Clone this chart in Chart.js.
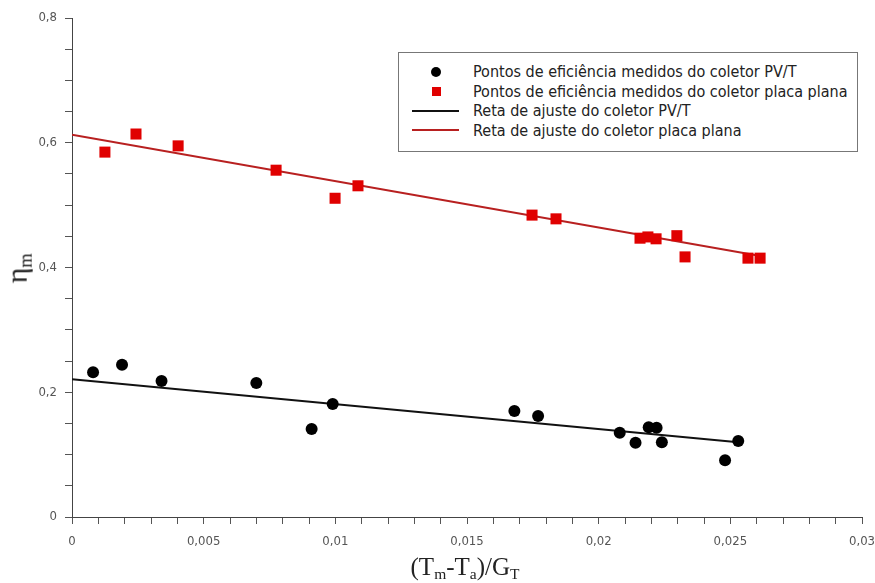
<!DOCTYPE html>
<html>
<head>
<meta charset="utf-8">
<script src="https://cdn.jsdelivr.net/npm/chart.js@4/dist/chart.umd.min.js"></script>
<style>
  body { margin: 0; background: #fff; }
  #wrap { position: relative; width: 875px; height: 583px; }
  #legend {
    position: absolute; left: 398px; top: 52px; width: 460px; height: 100px;
    border: 1px solid #777; background: #fff; box-sizing: border-box;
    font-family: "DejaVu Sans Condensed", "DejaVu Sans", sans-serif; font-size: 16px; color: #222;
    padding-top: 9px;
  }
  .row { height: 19.5px; display: flex; align-items: center; }
  .mark { width: 74px; display: flex; justify-content: center; align-items: center; }
  .dot { width: 10px; height: 10px; border-radius: 50%; background: #000; }
  .sq { width: 9px; height: 9px; background: #e00000; }
  .ln { width: 47px; height: 2px; margin-left: -2px; }
  .ytitle {
    position: absolute; left: -4px; top: 250px; transform: rotate(-90deg); transform-origin: center;
    font-family: "Liberation Serif", serif; font-size: 30px; color: #222; width: 44px; text-align: center;
  }
  .xtitle {
    position: absolute; left: 0; width: 930px; top: 553px; text-align: center;
    font-family: "Liberation Serif", serif; font-size: 25px; color: #222;
  }
  sub { font-size: 62%; vertical-align: -0.25em; }
</style>
</head>
<body>
<div id="wrap">
  <canvas id="c" width="875" height="583"></canvas>
  <div class="ytitle">η<sub>m</sub></div>
  <div class="xtitle">(T<sub>m</sub>-T<sub>a</sub>)/G<sub>T</sub></div>
  <div id="legend"></div>
</div>
<script>
// measured efficiency points, PV/T collector
const pvtX = [0.0008, 0.0019, 0.0034, 0.0070, 0.0091, 0.0099, 0.0168, 0.0177, 0.0208, 0.0214, 0.0219, 0.0222, 0.0224, 0.0248, 0.0253];
const pvtY = [0.232, 0.244, 0.218, 0.215, 0.141, 0.181, 0.170, 0.162, 0.135, 0.119, 0.144, 0.143, 0.120, 0.091, 0.122];
// measured efficiency points, flat plate collector
const placaX = [0.00125, 0.00243, 0.00403, 0.00775, 0.00999, 0.01086, 0.01747, 0.01838, 0.02157, 0.02187, 0.02218, 0.02297, 0.02328, 0.02567, 0.02613];
const placaY = [0.585, 0.614, 0.595, 0.556, 0.511, 0.531, 0.484, 0.478, 0.447, 0.449, 0.446, 0.451, 0.417, 0.415, 0.415];
// fitted lines (end points)
const fitPvtX = [0, 0.0253];
const fitPvtY = [0.221, 0.120];
const fitPlacaX = [0, 0.0262];
const fitPlacaY = [0.613, 0.418];

const labels = [
  'Pontos de eficiência medidos do coletor PV/T',
  'Pontos de eficiência medidos do coletor placa plana',
  'Reta de ajuste do coletor PV/T',
  'Reta de ajuste do coletor placa plana'
];

const pts = (xs, ys) => xs.map((x, i) => ({ x: x, y: ys[i] }));
const fmt = v => String(+v.toFixed(4)).replace('.', ',');

const chart = new Chart(document.getElementById('c'), {
  type: 'scatter',
  data: {
    datasets: [
      { label: labels[0], data: pts(pvtX, pvtY), pointStyle: 'circle', pointRadius: 6,
        backgroundColor: '#000', borderColor: '#000', borderWidth: 0, order: 1 },
      { label: labels[1], data: pts(placaX, placaY), pointStyle: 'rect', pointRadius: 7.8,
        backgroundColor: '#e00000', borderColor: '#e00000', borderWidth: 0, order: 1 },
      { label: labels[2], type: 'line', data: pts(fitPvtX, fitPvtY), borderColor: '#111',
        borderWidth: 2, pointRadius: 0, fill: false, order: 2 },
      { label: labels[3], type: 'line', data: pts(fitPlacaX, fitPlacaY), borderColor: '#b82020',
        borderWidth: 2, pointRadius: 0, fill: false, order: 2 }
    ]
  },
  options: {
    responsive: false,
    animation: false,
    layout: { padding: { left: 0, right: 0, top: 18, bottom: 0 } },
    plugins: { legend: { display: false }, tooltip: { enabled: false } },
    scales: {
      x: {
        type: 'linear', min: 0, max: 0.03,
        afterFit: s => { s.height = 66; s.paddingRight = 13; s.paddingLeft = 0; },
        afterBuildTicks: s => {
          s.ticks = [];
          for (let i = 0; i <= 30; i++) s.ticks.push({ value: i / 1000 });
        },
        ticks: {
          autoSkip: false, maxRotation: 0, padding: 10, color: '#555',
          font: { family: 'DejaVu Sans Condensed', size: 13 },
          callback: v => (Math.round(v * 1000) % 5 === 0 ? fmt(v) : '')
        },
        grid: { drawOnChartArea: false, tickLength: 7, tickColor: '#555', color: '#555' },
        border: { color: '#444', width: 1 }
      },
      y: {
        type: 'linear', min: 0, max: 0.8,
        afterFit: s => { s.width = 72; },
        afterBuildTicks: s => {
          s.ticks = [];
          for (let i = 0; i <= 16; i++) s.ticks.push({ value: i / 20 });
        },
        ticks: {
          autoSkip: false, padding: 8, color: '#555',
          font: { family: 'DejaVu Sans Condensed', size: 13 },
          callback: v => (Math.round(v * 20) % 4 === 0 ? fmt(v) : '')
        },
        grid: { drawOnChartArea: false, tickLength: 7, tickColor: '#555', color: '#555' },
        border: { color: '#444', width: 1 }
      }
    }
  }
});

// legend box built from the datasets
const leg = document.getElementById('legend');
chart.data.datasets.forEach((ds, i) => {
  const row = document.createElement('div');
  row.className = 'row';
  let mark;
  if (ds.type === 'line') mark = '<div class="ln" style="background:' + ds.borderColor + '"></div>';
  else if (ds.pointStyle === 'rect') mark = '<div class="sq"></div>';
  else mark = '<div class="dot"></div>';
  row.innerHTML = '<div class="mark">' + mark + '</div><span>' + ds.label + '</span>';
  leg.appendChild(row);
});
</script>
</body>
</html>
